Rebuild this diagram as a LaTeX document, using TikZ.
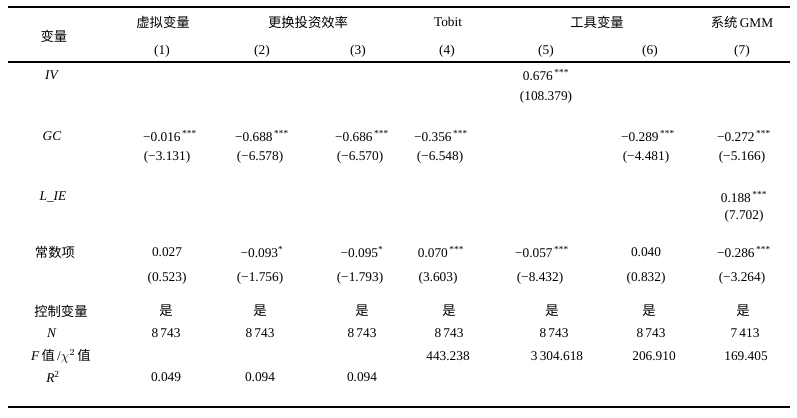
\documentclass[tikz,border=0pt]{standalone}
\usepackage{fontspec}
\setmainfont{Liberation Serif}
\newfontfamily\cjk{Noto Sans CJK SC}
\begin{document}
\begin{tikzpicture}[x=0.75pt,y=-0.75pt,
  cell/.style={inner sep=0pt,anchor=center,font=\fontsize{10}{12}\selectfont},
  lab/.style={inner sep=0pt,anchor=center,font=\fontsize{10}{12}\selectfont},
  rulethin/.style={line width=0.8pt},
  rulethick/.style={line width=1.7pt}]
\useasboundingbox (0,0) rectangle (797,418);
\newcommand{\st}{\textsuperscript{\,***}}
% rules
\coordinate (tl) at (8,7); \coordinate (tr) at (790,7);
\coordinate (ml) at (8,62); \coordinate (mr) at (790,62);
\coordinate (bl) at (8,407); \coordinate (br) at (790,407);
\draw[rulethin] (tl) -- (tr);
\draw[rulethin] (ml) -- (mr);
\draw[rulethick] (bl) -- (br);
% header
\node[lab] (hvar) at (54,36) {\cjk 变量};
\node[cell] (h1) at (163,22) {\cjk 虚拟变量};
\node[cell] (h23) at (308,22) {\cjk 更换投资效率};
\node[cell] (h4) at (448,22) {Tobit};
\node[cell] (h56) at (597,22) {\cjk 工具变量};
\node[cell] (h7) at (742,22) {{\cjk 系统}\,GMM};
\node[cell] (n1) at (162,51) {(1)};
\node[cell] (n2) at (262,51) {(2)};
\node[cell] (n3) at (358,51) {(3)};
\node[cell] (n4) at (447,51) {(4)};
\node[cell] (n5) at (546,51) {(5)};
\node[cell] (n6) at (650,51) {(6)};
\node[cell] (n7) at (742,51) {(7)};
% row labels
\node[lab] (riv) at (52,75) {\textit{IV}};
\node[lab] (rgc) at (52,136) {\textit{GC}};
\node[lab] (rlie) at (53,197) {\textit{L\_IE}};
\node[lab] (rcons) at (55,252) {\cjk 常数项};
\node[lab] (rctrl) at (61,311) {\cjk 控制变量};
\node[lab] (rn) at (52,333) {\textit{N}};
\node[lab] (rf) at (61,356) {\textit{F}\,{\cjk 值}\,/$\chi^2$\,{\cjk 值}};
\node[lab] (rr) at (53,377) {\textit{R}\textsuperscript{2}};
% IV
\node[cell] (iv5) at (546,75) {0.676\st};
\node[cell] (iv5t) at (546,97) {(108.379)};
% GC
\node[cell] (gc1) at (170,136) {−0.016\st};
\node[cell] (gc1t) at (167,157) {(−3.131)};
\node[cell] (gc2) at (262,136) {−0.688\st};
\node[cell] (gc2t) at (260,157) {(−6.578)};
\node[cell] (gc3) at (362,136) {−0.686\st};
\node[cell] (gc3t) at (360,157) {(−6.570)};
\node[cell] (gc4) at (441,136) {−0.356\st};
\node[cell] (gc4t) at (440,157) {(−6.548)};
\node[cell] (gc6) at (648,136) {−0.289\st};
\node[cell] (gc6t) at (646,157) {(−4.481)};
\node[cell] (gc7) at (744,136) {−0.272\st};
\node[cell] (gc7t) at (742,157) {(−5.166)};
% L_IE
\node[cell] (li7) at (744,197) {0.188\st};
\node[cell] (li7t) at (744,216) {(7.702)};
% constant
\node[cell] (c1) at (167,252) {0.027};
\node[cell] (c1t) at (167,278) {(0.523)};
\node[cell] (c2) at (262,252) {−0.093\textsuperscript{*}};
\node[cell] (c2t) at (260,278) {(−1.756)};
\node[cell] (c3) at (362,252) {−0.095\textsuperscript{*}};
\node[cell] (c3t) at (360,278) {(−1.793)};
\node[cell] (c4) at (441,252) {0.070\st};
\node[cell] (c4t) at (438,278) {(3.603)};
\node[cell] (c5) at (542,252) {−0.057\st};
\node[cell] (c5t) at (540,278) {(−8.432)};
\node[cell] (c6) at (646,252) {0.040};
\node[cell] (c6t) at (646,278) {(0.832)};
\node[cell] (c7) at (744,252) {−0.286\st};
\node[cell] (c7t) at (742,278) {(−3.264)};
% controls
\node[cell] (k1) at (166,311) {\cjk 是};
\node[cell] (k2) at (260,311) {\cjk 是};
\node[cell] (k3) at (362,311) {\cjk 是};
\node[cell] (k4) at (449,311) {\cjk 是};
\node[cell] (k5) at (552,311) {\cjk 是};
\node[cell] (k6) at (649,311) {\cjk 是};
\node[cell] (k7) at (743,311) {\cjk 是};
% N
\node[cell] (N1) at (166,333) {8\,743};
\node[cell] (N2) at (260,333) {8\,743};
\node[cell] (N3) at (362,333) {8\,743};
\node[cell] (N4) at (449,333) {8\,743};
\node[cell] (N5) at (554,333) {8\,743};
\node[cell] (N6) at (651,333) {8\,743};
\node[cell] (N7) at (745,333) {7\,413};
% F
\node[cell] (F4) at (448,356) {443.238};
\node[cell] (F5) at (557,356) {3\,304.618};
\node[cell] (F6) at (654,356) {206.910};
\node[cell] (F7) at (746,356) {169.405};
% R2
\node[cell] (R1) at (166,377) {0.049};
\node[cell] (R2) at (260,377) {0.094};
\node[cell] (R3) at (362,377) {0.094};
\end{tikzpicture}
\end{document}
